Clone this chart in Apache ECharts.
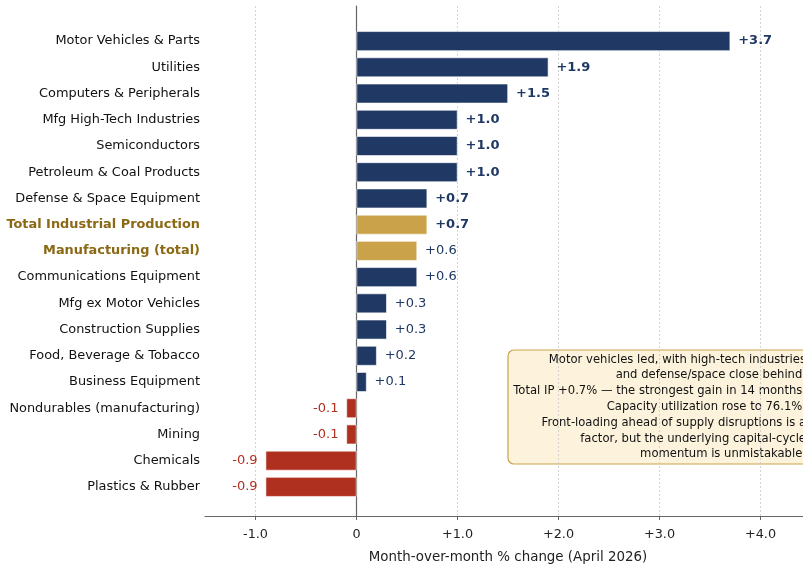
<!DOCTYPE html>
<html>
<head>
<meta charset="utf-8">
<script src="https://cdn.jsdelivr.net/npm/echarts@6/dist/echarts.min.js"></script>
<style>html,body{margin:0;padding:0;background:#fff;overflow:hidden;width:803px;height:569px}#c{width:811px;height:569px}</style>
</head>
<body>
<div id="c"></div>
<script>
const categories = [
  "Motor Vehicles & Parts","Utilities","Computers & Peripherals","Mfg High-Tech Industries",
  "Semiconductors","Petroleum & Coal Products","Defense & Space Equipment",
  "Total Industrial Production","Manufacturing (total)","Communications Equipment",
  "Mfg ex Motor Vehicles","Construction Supplies","Food, Beverage & Tobacco",
  "Business Equipment","Nondurables (manufacturing)","Mining","Chemicals","Plastics & Rubber"
];
const values = [3.7,1.9,1.5,1.0,1.0,1.0,0.7,0.7,0.6,0.6,0.3,0.3,0.2,0.1,-0.1,-0.1,-0.9,-0.9];
const highlighted = ["Total Industrial Production","Manufacturing (total)"];
const xTicks = [-1,0,1,2,3,4];
const xTickLabels = ["-1.0","0","+1.0","+2.0","+3.0","+4.0"];
const xRange = [-1.5, 4.5];
const xTitle = "Month-over-month % change (April 2026)";
const noteText = "Motor vehicles led, with high-tech industries\nand defense/space close behind.\nTotal IP +0.7% — the strongest gain in 14 months.\nCapacity utilization rose to 76.1%.\nFront-loading ahead of supply disruptions is a\nfactor, but the underlying capital-cycle\nmomentum is unmistakable.";

const NAVY = "#1f3864", GOLD = "#c9a24a", RED = "#b03020", GOLDTXT = "#8b6914";
const FONT = "DejaVu Sans";

const barData = values.map((v, i) => {
  const hl = highlighted.includes(categories[i]);
  const color = hl ? GOLD : (v >= 0 ? NAVY : RED);
  return {
    value: v,
    itemStyle: { color: color },
    label: {
      position: v >= 0 ? "right" : "left",
      color: v >= 0 ? NAVY : RED,
      fontWeight: v >= 0.7 ? "bold" : "normal"
    }
  };
});

const chart = echarts.init(document.getElementById("c"), null, { renderer: "canvas" });
chart.setOption({
  animation: false,
  backgroundColor: "#fff",
  textStyle: { fontFamily: FONT },
  grid: [
    { left: 205, right: 0, top: 6, bottom: 49, containLabel: false },
    { left: 205, right: 0, top: 28, bottom: 69, containLabel: false }
  ],
  xAxis: [
    {
      gridIndex: 0, type: "value", min: xRange[0], max: xRange[1],
      axisLine: { show: true, onZero: false, lineStyle: { color: "#666", width: 1.2 } },
      axisTick: { show: true, customValues: xTicks, length: 4, lineStyle: { color: "#666" } },
      axisLabel: {
        customValues: xTicks, margin: 12, color: "#222", fontSize: 12.8, fontFamily: FONT,
        formatter: (val) => { const k = xTicks.indexOf(Math.round(val)); return k >= 0 ? xTickLabels[k] : ""; }
      },
      splitLine: { show: true, lineStyle: { color: "#c8c8c8", type: [2, 2], width: 0.8 } },
      name: xTitle, nameLocation: "middle", nameGap: 35,
      nameTextStyle: { color: "#222", fontSize: 13.4, fontFamily: FONT }
    },
    {
      gridIndex: 1, type: "value", min: xRange[0], max: xRange[1], show: false,
      splitLine: { show: false }
    }
  ],
  yAxis: [
    {
      gridIndex: 0, type: "value", min: 0, max: 1,
      axisLine: { show: true, onZero: true, lineStyle: { color: "#666", width: 1.2 } },
      axisTick: { show: false }, axisLabel: { show: false }, splitLine: { show: false }
    },
    {
      gridIndex: 1, type: "category", data: categories, inverse: true,
      axisLine: { show: false }, axisTick: { show: false }, splitLine: { show: false },
      axisLabel: {
        margin: 5, fontFamily: FONT,
        formatter: (name) => highlighted.includes(name) ? "{hl|" + name + "}" : "{n|" + name + "}",
        rich: {
          n: { color: "#111", fontSize: 12.9, fontFamily: FONT },
          hl: { color: GOLDTXT, fontSize: 12.9, fontWeight: "bold", fontFamily: FONT }
        }
      }
    }
  ],
  series: [
    {
      type: "bar", xAxisIndex: 1, yAxisIndex: 1, data: barData, barWidth: "75%",
      itemStyle: { borderColor: "#fff", borderWidth: 0.6 },
      label: {
        show: true, distance: 8, fontSize: 13, fontFamily: FONT,
        formatter: (p) => (p.value > 0 ? "+" : "") + p.value.toFixed(1)
      }
    }
  ],
  graphic: [
    {
      type: "group", z: 100,
      children: [
        { type: "rect", shape: { x: 508, y: 350, width: 306, height: 114, r: 6 },
          style: { fill: "#fdf3dc", stroke: "#c9a44a", lineWidth: 1.2 } },
        { type: "text", x: 806, y: 407,
          style: { text: noteText, align: "right", verticalAlign: "middle", lineHeight: 15.8,
                   fontSize: 11.6, fontFamily: FONT, fill: "#111" } }
      ]
    }
  ]
});
</script>
</body>
</html>
